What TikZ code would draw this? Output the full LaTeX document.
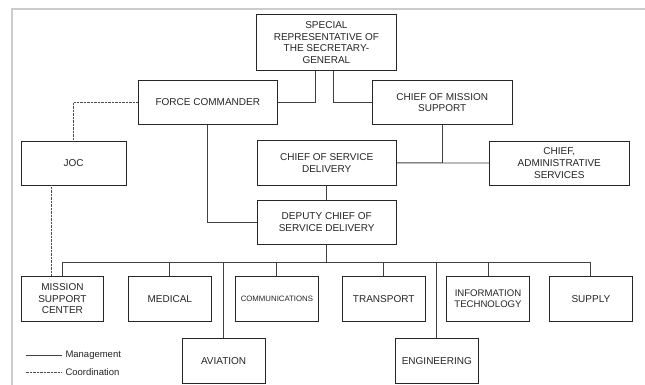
\documentclass[tikz,border=0pt]{standalone}
\usepackage{fontspec}
\setmainfont{Liberation Sans}
\usetikzlibrary{calc}
\begin{document}
\begin{tikzpicture}[x=1pt,y=-1pt,
  orgbox/.style={draw=black!85, line width=0.8pt, fill=white, align=center, inner sep=0pt,
    font=\fontsize{10}{11.6}\selectfont, text=black!85},
  bigbox/.style={orgbox, minimum width=139.5pt, minimum height=44pt},
  rowbox/.style={orgbox, minimum width=82.7pt, minimum height=44.3pt},
  mgmt/.style={draw=black!75, line width=0.9pt},
  coordline/.style={draw=black!70, line width=0.7pt, dash pattern=on 0.7pt off 0.7pt},
  legendtext/.style={anchor=west, inner sep=0pt, font=\fontsize{9.5}{11}\selectfont, text=black!85},
]
\useasboundingbox (0,0) rectangle (645,385);
\fill[white] (0,0) rectangle (645,385);
\draw[black!20, line width=2pt] (645,9.5) -- (12.3,9.5) -- (12.3,385);

% boxes
\node[orgbox, minimum width=139.3pt, minimum height=56.7pt] (srsg) at (326.4,42.4)
  {SPECIAL\\REPRESENTATIVE OF\\THE SECRETARY-\\GENERAL};
\node[bigbox, minimum height=43.6pt] (fc) at (207.8,102.5) {FORCE COMMANDER};
\node[bigbox, minimum height=43.6pt] (cms) at (442.2,102.5) {CHIEF OF MISSION\\SUPPORT};
\node[orgbox, minimum width=105pt, minimum height=44pt] (joc) at (73.5,163) {JOC};
\node[bigbox] (csd) at (326.7,162.9) {CHIEF OF SERVICE\\DELIVERY};
\node[bigbox] (cas) at (559.3,163) {CHIEF,\\ADMINISTRATIVE\\SERVICES};
\node[bigbox] (dcsd) at (326.7,222.2) {DEPUTY CHIEF OF\\SERVICE DELIVERY};

\node[rowbox] (msc) at (62.4,298.9) {MISSION\\SUPPORT\\CENTER};
\node[rowbox] (med) at (169.8,298.9) {MEDICAL};
\node[rowbox, font=\fontsize{7.8}{9}\selectfont] (comm) at (276.9,298.9) {COMMUNICATIONS};
\node[rowbox] (trans) at (383.7,298.9) {TRANSPORT};
\node[rowbox, font=\fontsize{9.6}{11}\selectfont] (it) at (488,298.9) {INFORMATION\\TECHNOLOGY};
\node[rowbox] (supply) at (590.9,298.9) {SUPPLY};
\node[rowbox, minimum height=44.7pt] (avi) at (223.6,360.6) {AVIATION};
\node[rowbox, minimum height=44.7pt] (eng) at (436.8,360.6) {ENGINEERING};

% management connectors
\draw[mgmt] ($(srsg.south)+(-10.7,0)$) |- (fc.east);
\draw[mgmt] ($(srsg.south)+(7,0)$) |- (cms.west);
\draw[mgmt] (fc.south) |- (dcsd.west);
\draw[mgmt] (cms.south) -- (cms.south |- csd.east);
\draw[mgmt] (csd.east) -- (cas.west);
\draw[mgmt] (csd.south) -- (dcsd.north);
\coordinate (bus) at (326.7,262.3);
\draw[mgmt] (dcsd.south) -- (bus);
\draw[mgmt] (msc.north |- bus) -- (supply.north |- bus);
\foreach \n in {msc,med,comm,trans,it,supply,avi,eng}
  \draw[mgmt] (\n.north |- bus) -- (\n.north);

% coordination connectors
\draw[coordline] (fc.west) -| (joc.north);
\coordinate (dj) at ($(joc.south)+(-22.5,0)$);
\draw[coordline] (dj) -- (dj |- msc.north);

% legend
\coordinate (l1a) at (25.6,355.3);
\coordinate (l1b) at (62,355.3);
\coordinate (l2a) at (25.6,372);
\coordinate (l2b) at (62,372);
\draw[mgmt] (l1a) -- (l1b);
\node[legendtext] (lm) at (65.3,355.3) {Management};
\draw[coordline] (l2a) -- (l2b);
\node[legendtext] (lc) at (65.3,372) {Coordination};
\end{tikzpicture}
\end{document}
